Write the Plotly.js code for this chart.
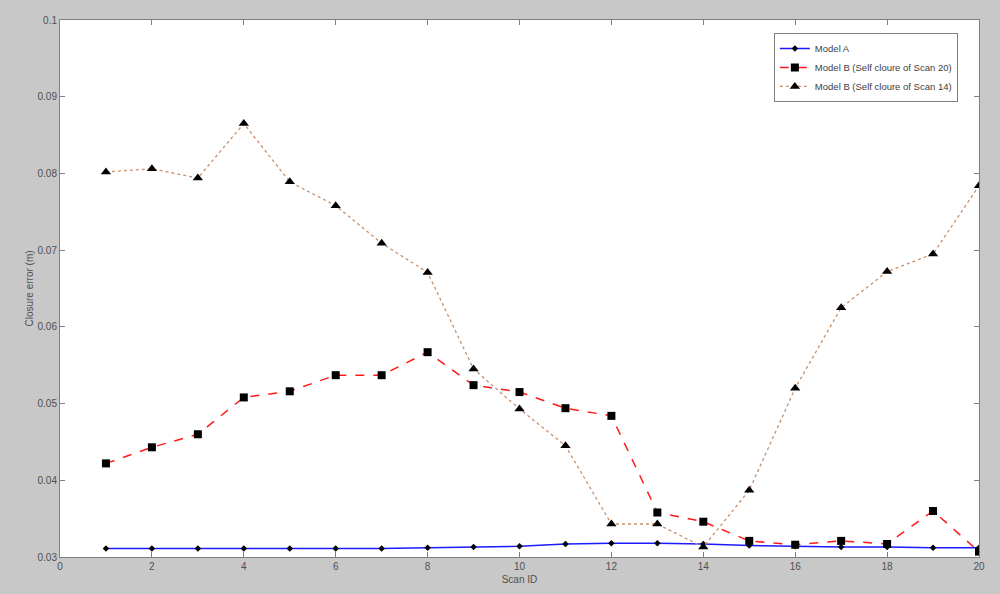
<!DOCTYPE html>
<html>
<head>
<meta charset="utf-8">
<script src="https://cdn.plot.ly/plotly-3.0.1.min.js"></script>
<style>
  html, body { margin: 0; padding: 0; background: #c8c8c8; }
  #chart { width: 1000px; height: 594px; }
</style>
</head>
<body>
<div id="chart"></div>
<script>
// scan ids 1..20
var scanIds = [1, 2, 3, 4, 5, 6, 7, 8, 9, 10, 11, 12, 13, 14, 15, 16, 17, 18, 19, 20];

// closure error (m)
var modelA = [0.0311, 0.0311, 0.0311, 0.0311, 0.0311, 0.0311, 0.0311, 0.0312, 0.0313, 0.0314,
              0.0317, 0.0318, 0.0318, 0.0317, 0.0315, 0.0314, 0.0313, 0.0313, 0.0312, 0.0312];
var modelB20 = [0.0422, 0.0443, 0.0460, 0.0508, 0.0516, 0.0537, 0.0537, 0.0567, 0.0524, 0.0515,
                0.0494, 0.0484, 0.0358, 0.0346, 0.0321, 0.0316, 0.0321, 0.0317, 0.0360, 0.0307];
var modelB14 = [0.0802, 0.0806, 0.0794, 0.0865, 0.0789, 0.0758, 0.0709, 0.0671, 0.0545, 0.0493,
                0.0445, 0.0343, 0.0343, 0.0313, 0.0387, 0.0520, 0.0625, 0.0672, 0.0695, 0.0784];

var seriesNames = ['Model A', 'Model B (Self cloure of Scan 20)', 'Model B (Self cloure of Scan 14)'];

var yTicks = [0.03, 0.04, 0.05, 0.06, 0.07, 0.08, 0.09, 0.1];
var yTickText = ['0.03', '0.04', '0.05', '0.06', '0.07', '0.08', '0.09', '0.1'];
var xTicks = [0, 2, 4, 6, 8, 10, 12, 14, 16, 18, 20];

var traces = [
    {
        x: scanIds, y: modelA, name: seriesNames[0],
        type: 'scatter', mode: 'lines+markers',
        line: {color: '#1a1aff', width: 1.5},
        marker: {symbol: 'diamond', size: 5, color: '#000'}
    },
    {
        x: scanIds, y: modelB20, name: seriesNames[1],
        type: 'scatter', mode: 'lines+markers',
        line: {color: '#ff1a1a', width: 1.5, dash: 'dash'},
        marker: {symbol: 'square', size: 8, color: '#000'}
    },
    {
        x: scanIds, y: modelB14, name: seriesNames[2],
        type: 'scatter', mode: 'lines+markers',
        line: {color: '#c8906a', width: 1.3, dash: 'dot'},
        marker: {symbol: 'triangle-up', size: 9, color: '#000'}
    }
];

var axisCommon = {
    showgrid: false, zeroline: false,
    showline: true, linecolor: '#808080', linewidth: 1, mirror: 'ticks',
    ticks: 'inside', ticklen: 5, tickcolor: '#808080',
    tickfont: {family: 'Arial, Liberation Sans, sans-serif', size: 10, color: '#505050'}
};

var layout = {
    width: 1000, height: 594,
    paper_bgcolor: '#c8c8c8',
    plot_bgcolor: '#ffffff',
    margin: {l: 60, r: 21, t: 20, b: 37},
    font: {family: 'Arial, Liberation Sans, sans-serif', color: '#505050'},
    xaxis: Object.assign({}, axisCommon, {
        range: [0, 20], tickvals: xTicks,
        title: {text: 'Scan ID', font: {size: 10, color: '#505050'}, standoff: 4}
    }),
    yaxis: Object.assign({}, axisCommon, {
        range: [0.03, 0.1], tickvals: yTicks, ticktext: yTickText,
        title: {text: 'Closure error (m)', font: {size: 10, color: '#505050'}, standoff: 2}
    }),
    showlegend: true,
    legend: {
        x: 0.977, y: 0.976, xanchor: 'right', yanchor: 'top',
        bgcolor: '#ffffff', bordercolor: '#808080', borderwidth: 1,
        font: {size: 9.5, color: '#404040'},
        tracegroupgap: 0, itemwidth: 30
    }
};

Plotly.newPlot('chart', traces, layout, {displayModeBar: false});
</script>
</body>
</html>
